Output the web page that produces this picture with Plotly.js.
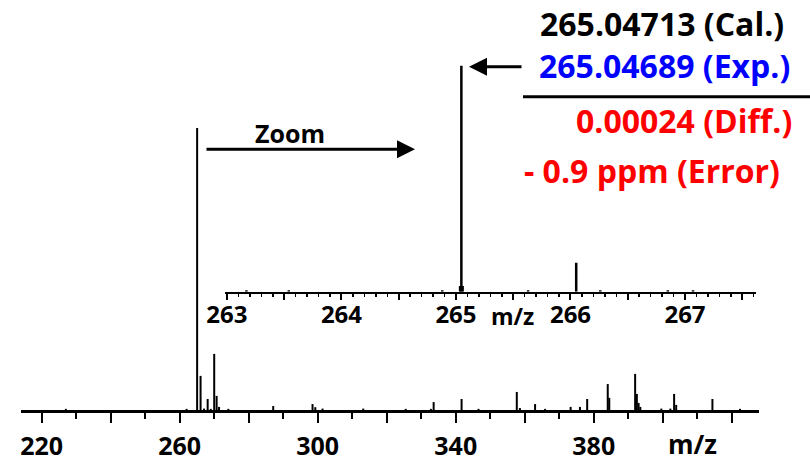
<!DOCTYPE html>
<html>
<head>
<meta charset="utf-8">
<script src="https://cdn.plot.ly/plotly-3.0.1.min.js"></script>
<style>html,body{margin:0;padding:0;background:#fff;}#chart{width:810px;height:462px;}</style>
</head>
<body>
<div id="chart"></div>
<script>
// ---- Data ----
// Full spectrum: m/z and relative intensity (%)
const mainMz = [227.0, 262.0, 265.05, 266.05, 267.05, 268.1, 269.0, 270.0, 270.7, 271.4, 274.1,
  287.1, 298.5, 299.3, 301.4, 313.2, 325.5, 332.8, 333.6, 341.7, 346.6, 357.7, 358.6, 363.0,
  365.9, 373.3, 376.0, 378.1, 384.06, 384.5, 392.0, 392.5, 393.0, 393.5, 399.6, 402.2, 403.3,
  403.9, 414.4, 422.4];
const mainInt = [0.4, 0.4, 100, 12.1, 0.5, 3.9, 0.4, 19.9, 5.0, 1.1, 0.4,
  1.4, 2.1, 1.0, 0.5, 0.5, 0.4, 0.4, 2.8, 3.9, 0.4, 6.4, 0.7, 2.1,
  0.4, 1.1, 1.1, 3.9, 9.2, 4.3, 12.8, 5.7, 2.5, 1.1, 0.5, 0.5, 5.7,
  1.8, 3.9, 0.4];
// Zoomed spectrum (inset)
const zoomMz = [263.17, 263.54, 264.88, 265.036, 265.047, 265.058, 265.63, 266.05, 266.26, 266.85, 267.07];
const zoomInt = [0.6, 0.6, 0.6, 2.5, 100, 2.5, 0.6, 12.8, 0.6, 0.6, 0.6];
// Tick labels
const mainTickVals = [220, 240, 260, 280, 300, 320, 340, 360, 380, 400, 420];
const mainTickText = ['220', '', '260', '', '300', '', '340', '', '380', '', ''];
const zoomTickVals = [263, 263.5, 264, 264.5, 265, 265.5, 266, 266.5, 267, 267.5];
const zoomTickText = ['263', '', '264', '', '265', '', '266', '', '267', ''];
// Mass-accuracy text
const calText = '265.04713 (Cal.)';
const expText = '265.04689 (Exp.)';
const diffText = '0.00024 (Diff.)';
const errText = '- 0.9 ppm (Error)';

function sticks(xs, ys) {
  const x = [], y = [];
  xs.forEach((m, i) => { x.push(m, m, null); y.push(0, ys[i], null); });
  return {x, y};
}

const W = 810, H = 462;
const px = v => v / W;
const py = v => 1 - v / H;
const FONT = 'Open Sans';

const s1 = sticks(mainMz, mainInt);
const s2 = sticks(zoomMz, zoomInt);

const traces = [
  {x: s1.x, y: s1.y, xaxis: 'x', yaxis: 'y', mode: 'lines', type: 'scatter',
   line: {color: '#000', width: 2}, hoverinfo: 'skip', showlegend: false},
  {x: s2.x, y: s2.y, xaxis: 'x2', yaxis: 'y2', mode: 'lines', type: 'scatter',
   line: {color: '#000', width: 2.5}, hoverinfo: 'skip', showlegend: false}
];

const layout = {
  width: W, height: H,
  margin: {l: 0, r: 0, t: 0, b: 0},
  paper_bgcolor: '#fff', plot_bgcolor: 'rgba(0,0,0,0)',
  showlegend: false,
  xaxis: {
    domain: [px(21), px(759)], range: [214.0, 427.9], anchor: 'y',
    showline: true, linecolor: '#000', linewidth: 3, showgrid: false, zeroline: false,
    tickmode: 'array', tickvals: mainTickVals, ticktext: mainTickText,
    ticks: 'outside', ticklen: 10, tickwidth: 2, tickcolor: '#000',
    tickfont: {family: FONT, size: 25, color: '#000', weight: 'bold'},
    ticklabelstandoff: 2,
    minor: {tickmode: 'linear', tick0: 220, dtick: 10, ticks: 'outside', ticklen: 6, tickwidth: 2, tickcolor: '#000'}
  },
  yaxis: {domain: [1 - 410 / H, 1 - 113.9 / H], range: [0, 105], visible: false, anchor: 'x'},
  xaxis2: {
    domain: [px(225), px(756)], range: [262.983, 267.62], anchor: 'y2',
    showline: true, linecolor: '#000', linewidth: 2, showgrid: false, zeroline: false,
    tickmode: 'array', tickvals: zoomTickVals, ticktext: zoomTickText,
    ticks: 'outside', ticklen: 6, tickwidth: 2, tickcolor: '#000',
    tickfont: {family: FONT, size: 24, color: '#000', weight: 'bold'},
    ticklabelstandoff: -6,
    minor: {tickmode: 'linear', tick0: 263, dtick: 0.1, ticks: 'outside', ticklen: 3, tickwidth: 1.5, tickcolor: '#000'}
  },
  yaxis2: {domain: [1 - 291.7 / H, 1 - 54.4 / H], range: [0, 105], visible: false, anchor: 'x2'},
  shapes: [
    {type: 'line', xref: 'paper', yref: 'paper', x0: px(523), x1: px(812), y0: py(96.7), y1: py(96.7),
     line: {color: '#000', width: 3}}
  ],
  annotations: [
    {text: calText, xref: 'paper', yref: 'paper', x: px(786), y: py(23), xanchor: 'right', yanchor: 'middle',
     showarrow: false, font: {family: FONT, size: 32, color: '#000', weight: 'bold'}},
    {text: expText, xref: 'paper', yref: 'paper', x: px(792), y: py(66), xanchor: 'right', yanchor: 'middle',
     showarrow: false, font: {family: FONT, size: 32, color: '#0000FF', weight: 'bold'}},
    {text: diffText, xref: 'paper', yref: 'paper', x: px(794), y: py(121), xanchor: 'right', yanchor: 'middle',
     showarrow: false, font: {family: FONT, size: 32, color: '#FF0000', weight: 'bold'}},
    {text: errText, xref: 'paper', yref: 'paper', x: px(782), y: py(171), xanchor: 'right', yanchor: 'middle',
     showarrow: false, font: {family: FONT, size: 32, color: '#FF0000', weight: 'bold'}},
    {text: 'Zoom', xref: 'paper', yref: 'paper', x: px(290), y: py(133), xanchor: 'center', yanchor: 'middle',
     showarrow: false, font: {family: FONT, size: 25, color: '#000', weight: 'bold'}},
    {text: 'm/z', xref: 'paper', yref: 'paper', x: px(692), y: py(444), xanchor: 'center', yanchor: 'middle',
     showarrow: false, font: {family: FONT, size: 26, color: '#000', weight: 'bold'}},
    {text: 'm/z', xref: 'paper', yref: 'paper', x: px(512), y: py(316), xanchor: 'center', yanchor: 'middle',
     showarrow: false, font: {family: FONT, size: 23, color: '#000', weight: 'bold'}},
    // arrows
    {text: '', xref: 'paper', yref: 'paper', x: px(469), y: py(66.7), ax: 54, ay: 0, axref: 'pixel', ayref: 'pixel',
     showarrow: true, arrowhead: 2, arrowsize: 1.2, arrowwidth: 3, arrowcolor: '#000', standoff: 0},
    {text: '', xref: 'paper', yref: 'paper', x: px(415), y: py(149.3), ax: -210, ay: 0, axref: 'pixel', ayref: 'pixel',
     showarrow: true, arrowhead: 2, arrowsize: 1.2, arrowwidth: 3, arrowcolor: '#000', standoff: 0}
  ]
};

Plotly.newPlot('chart', traces, layout, {displayModeBar: false, staticPlot: true});
</script>
</body>
</html>
